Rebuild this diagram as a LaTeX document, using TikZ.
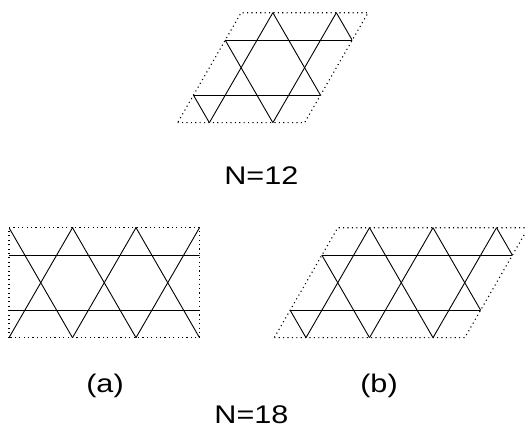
\documentclass[tikz,border=0pt]{standalone}
\usepackage{fontspec}
\setmainfont{Liberation Sans}

\begin{document}
\begin{tikzpicture}[
    x=1pt, y=1pt,
    bond/.style={line width=0.9pt, line cap=round},
    celledge/.style={line width=1.1pt, dash pattern=on 1.1pt off 3.3pt},
    lbl/.style={
        inner sep=0pt,
        font=\fontsize{25.5}{30}\selectfont,
        xscale=1.2, transform shape
    }
]
\useasboundingbox (0,0) rectangle (525,435);

\def\hg{3.4641}

%---------------------------------
% N=12: 2x2 rhombic cell
%---------------------------------
\begin{scope}[shift={(177.6,312.3)}, x=31.75pt, y=31.75pt]
  \begin{scope}
    \clip (0,0) -- (4,0) -- (6,\hg) -- (2,\hg) -- cycle;
    \foreach \yy in {0.866,2.598}
      \draw[bond] (-2,\yy) -- (9,\yy);
    \foreach \c in {-1,1,...,9} {
      \draw[bond] (\c-2,-\hg) -- (\c+4,2*\hg);
      \draw[bond] (\c+2,-\hg) -- (\c-4,2*\hg);
    }
  \end{scope}
  \draw[celledge] (0,0) -- (4,0) -- (6,\hg) -- (2,\hg) -- cycle;
\end{scope}

%---------------------------------
% N=18 (a): rectangular cell
%---------------------------------
\begin{scope}[shift={(9,97.3)}, x=31.75pt, y=31.75pt]
  \begin{scope}
    \clip (0,0) rectangle (6,\hg);
    \foreach \yy in {0.866,2.598}
      \draw[bond] (-2,\yy) -- (9,\yy);
    \foreach \c in {-4,-2,...,10} {
      \draw[bond] (\c-2,-\hg) -- (\c+4,2*\hg);
      \draw[bond] (\c+2,-\hg) -- (\c-4,2*\hg);
    }
  \end{scope}
  \draw[celledge] (0,0) rectangle (6,\hg);
\end{scope}

%---------------------------------
% N=18 (b): 3x2 rhombic cell
%---------------------------------
\begin{scope}[shift={(274.25,97.3)}, x=31.75pt, y=31.75pt]
  \begin{scope}
    \clip (0,0) -- (6,0) -- (8,\hg) -- (2,\hg) -- cycle;
    \foreach \yy in {0.866,2.598}
      \draw[bond] (-2,\yy) -- (11,\yy);
    \foreach \c in {-1,1,...,11} {
      \draw[bond] (\c-2,-\hg) -- (\c+4,2*\hg);
      \draw[bond] (\c+2,-\hg) -- (\c-4,2*\hg);
    }
  \end{scope}
  \draw[celledge] (0,0) -- (6,0) -- (8,\hg) -- (2,\hg) -- cycle;
\end{scope}

%---------------------------------
% Labels
%---------------------------------
\node[lbl] (lab12) at (261.4,259.2) {N=12};
\node[lbl] (laba)  at (105,49)      {(a)};
\node[lbl] (labb)  at (379,49)      {(b)};
\node[lbl] (lab18) at (251.5,20.4)  {N=18};

\end{tikzpicture}
\end{document}
